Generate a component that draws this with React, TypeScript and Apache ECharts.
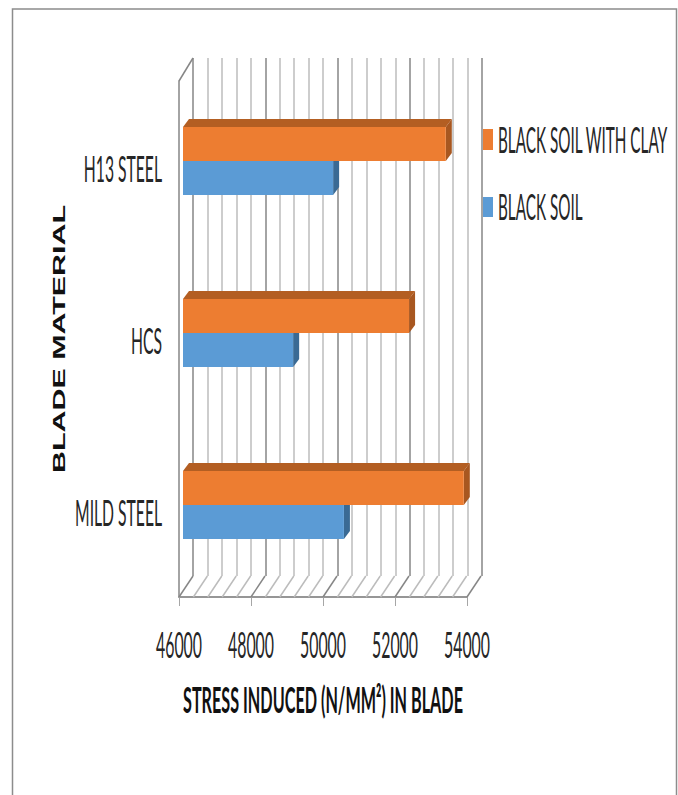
import React, { useEffect, useRef } from "react";
import * as echarts from "echarts";

const materials = ["MILD STEEL", "HCS", "H13 STEEL"];
const blackSoil = [50470, 49060, 50170];
const blackSoilWithClay = [53800, 52280, 53300];
const stressTicks = [46000, 48000, 50000, 52000, 54000];
const floorTicks = [
  46000, 46400, 46800, 47200, 47600, 48000, 48400, 48800, 49200, 49600, 50000,
  50400, 50800, 51200, 51600, 52000, 52400, 52800, 53200, 53600, 54000,
];
const xTitle = "STRESS INDUCED (N/MM²) IN BLADE";
const yTitle = "BLADE MATERIAL";
const clayName = "BLACK SOIL WITH CLAY";
const soilName = "BLACK SOIL";

const ORANGE = { front: "#ED7D31", top: "#B35E22", side: "#A85720" };
const BLUE = { front: "#5B9BD5", top: "#3F6D96", side: "#3A6A94" };
const GRID_MAJOR = "#868686";
const GRID_MINOR = "#BCBCBC";
const TEXT = "#262626";
const LABEL_FONT = "Lato";

// Horizontal stretch that brings a string to a given pixel width.
function fitScale(text: string, font: string, width: number) {
  const ctx = document.createElement("canvas").getContext("2d")!;
  ctx.font = font;
  return width / ctx.measureText(text).width;
}

// One extruded bar: the front face hangs above or below the category centre.
function barRenderer(colors: typeof ORANGE, above: boolean) {
  return (_p: any, api: any) => {
    const value = api.value(0);
    const cat = api.value(1);
    const base = api.coord([46000, cat]);
    const end = api.coord([value, cat]);
    const x0 = base[0] + 4;
    const x1 = end[0] + 4;
    const mid = base[1] - 6;
    const thick = 34;
    const y0 = above ? mid - thick : mid;
    const y1 = above ? mid : mid + thick;
    const dx = 6;
    const dy = -8;
    return {
      type: "group",
      children: [
        {
          type: "polygon",
          shape: { points: [[x0, y0], [x0 + dx, y0 + dy], [x1 + dx, y0 + dy], [x1, y0]] },
          style: { fill: colors.top },
        },
        {
          type: "polygon",
          shape: { points: [[x1, y0], [x1 + dx, y0 + dy], [x1 + dx, y1 + dy], [x1, y1]] },
          style: { fill: colors.side },
        },
        { type: "rect", shape: { x: x0, y: y0, width: x1 - x0, height: y1 - y0 }, style: { fill: colors.front } },
      ],
    };
  };
}

export default function App() {
  const ref = useRef<HTMLDivElement>(null);

  useEffect(() => {
    const chart = echarts.init(ref.current!, undefined, { renderer: "svg" });

    const tickFont = `36px ${LABEL_FONT}`;
    const titleFont = `bold 36px ${LABEL_FONT}`;
    const yTitleFont = `bold 17px "Liberation Sans"`;
    const tickScale = fitScale("46000", tickFont, 46);
    const catScale = fitScale("MILD STEEL", tickFont, 87);
    const legendScale = fitScale(clayName, tickFont, 170);
    const titleScale = fitScale(xTitle, titleFont, 280);
    const yTitleScale = fitScale(yTitle, yTitleFont, 268);

    const option: any = {
      animation: false,
      backgroundColor: "#FFFFFF",
      grid: [
        { left: 179, top: 81, width: 288, height: 516 },
        { left: 193, top: 58, width: 289, height: 518 },
      ],
      xAxis: [
        {
          type: "value",
          gridIndex: 0,
          min: 46000,
          max: 54000,
          interval: 2000,
          axisLine: { show: true, lineStyle: { color: "#969696", width: 2 } },
          axisTick: { show: true, length: 9, lineStyle: { color: "#A6A6A6", width: 1 } },
          axisLabel: { show: false },
          splitLine: { show: false },
        },
        {
          type: "value",
          gridIndex: 1,
          min: 46000,
          max: 54000,
          interval: 2000,
          axisLine: { show: false },
          axisTick: { show: false },
          axisLabel: { show: false },
          minorTick: { show: false, splitNumber: 5 },
          splitLine: { show: true, lineStyle: { color: GRID_MAJOR, width: 1.5 } },
          minorSplitLine: { show: true, lineStyle: { color: GRID_MINOR, width: 1.5 } },
        },
      ],
      yAxis: [
        {
          type: "category",
          gridIndex: 0,
          data: materials,
          axisLine: { show: true, lineStyle: { color: GRID_MAJOR, width: 1.5 } },
          axisTick: { show: false },
          axisLabel: { show: false },
        },
        {
          type: "category",
          gridIndex: 1,
          data: materials,
          axisLine: { show: false },
          axisTick: { show: false },
          axisLabel: { show: false },
        },
      ],
      series: [
        {
          // Floor of the 3D box: slanted rules joining the front edge to the back wall.
          type: "custom",
          name: "floor",
          silent: true,
          coordinateSystem: "cartesian2d",
          data: floorTicks.map((v) => [v]),
          encode: { x: 0 },
          renderItem: (params: any, api: any) => {
            const v = api.value(0);
            const x = api.coord([v, 0])[0];
            const bottom = params.coordSys.y + params.coordSys.height;
            const major = (v - 46000) % 2000 === 0;
            return {
              type: "line",
              shape: { x1: x, y1: bottom, x2: x + 14, y2: bottom - 21 },
              style: { stroke: major ? GRID_MAJOR : GRID_MINOR, lineWidth: 1.5 },
            };
          },
        },
        {
          // Slanted top edge of the left wall.
          type: "custom",
          name: "wall",
          silent: true,
          coordinateSystem: "cartesian2d",
          data: [[46000]],
          encode: { x: 0 },
          renderItem: (params: any, api: any) => {
            const x = api.coord([api.value(0), 0])[0];
            const top = params.coordSys.y;
            return {
              type: "line",
              shape: { x1: x, y1: top, x2: x + 14, y2: top - 23 },
              style: { stroke: GRID_MAJOR, lineWidth: 1.5 },
            };
          },
        },
        {
          type: "custom",
          name: soilName,
          coordinateSystem: "cartesian2d",
          data: blackSoil.map((v, i) => [v, i]),
          encode: { x: 0, y: 1 },
          renderItem: barRenderer(BLUE, false),
        },
        {
          type: "custom",
          name: clayName,
          coordinateSystem: "cartesian2d",
          data: blackSoilWithClay.map((v, i) => [v, i]),
          encode: { x: 0, y: 1 },
          renderItem: barRenderer(ORANGE, true),
        },
        {
          // Value labels under the floor, squeezed horizontally like the rest of the type.
          type: "custom",
          name: "stress ticks",
          silent: true,
          coordinateSystem: "cartesian2d",
          data: stressTicks.map((v) => [v]),
          encode: { x: 0 },
          renderItem: (params: any, api: any) => {
            const v = api.value(0);
            return {
              type: "text",
              x: api.coord([v, 0])[0],
              y: params.coordSys.y + params.coordSys.height + 47,
              scaleX: tickScale,
              style: {
                text: String(v),
                font: tickFont,
                fill: TEXT,
                textAlign: "center",
                textVerticalAlign: "middle",
              },
            };
          },
        },
        {
          // Material names left of the wall.
          type: "custom",
          name: "material labels",
          silent: true,
          coordinateSystem: "cartesian2d",
          data: materials.map((_m, i) => [46000, i]),
          encode: { x: 0, y: 1 },
          renderItem: (_p: any, api: any) => {
            const pos = api.coord([api.value(0), api.value(1)]);
            return {
              type: "text",
              x: pos[0] - 17,
              y: pos[1] + 1,
              scaleX: catScale,
              style: {
                text: materials[api.value(1)],
                font: tickFont,
                fill: TEXT,
                textAlign: "right",
                textVerticalAlign: "middle",
              },
            };
          },
        },
      ],
      graphic: [
        {
          type: "polyline",
          silent: true,
          shape: { points: [[12.5, 795], [12.5, 9], [676.5, 9], [676.5, 795]] },
          style: { stroke: "#8C8C8C", lineWidth: 1.5, fill: "none" },
        },
        { type: "rect", shape: { x: 483, y: 129, width: 10, height: 21 }, style: { fill: ORANGE.front } },
        { type: "rect", shape: { x: 483, y: 197, width: 10, height: 20 }, style: { fill: BLUE.front } },
        {
          type: "text",
          x: 498,
          y: 139,
          scaleX: legendScale,
          style: { text: clayName, font: tickFont, fill: TEXT, textAlign: "left", textVerticalAlign: "middle" },
        },
        {
          type: "text",
          x: 498,
          y: 206,
          scaleX: legendScale,
          style: { text: soilName, font: tickFont, fill: TEXT, textAlign: "left", textVerticalAlign: "middle" },
        },
        {
          type: "text",
          x: 323,
          y: 699,
          scaleX: titleScale,
          style: { text: xTitle, font: titleFont, fill: "#111111", textAlign: "center", textVerticalAlign: "middle" },
        },
        {
          type: "text",
          x: 59,
          y: 339,
          rotation: Math.PI / 2,
          scaleX: yTitleScale,
          style: { text: yTitle, font: yTitleFont, fill: "#111111", textAlign: "center", textVerticalAlign: "middle" },
        },
      ],
    };

    chart.setOption(option);
    return () => chart.dispose();
  }, []);

  return <div ref={ref} style={{ position: "absolute", left: 0, top: 0, width: 678, height: 795 }} />;
}
